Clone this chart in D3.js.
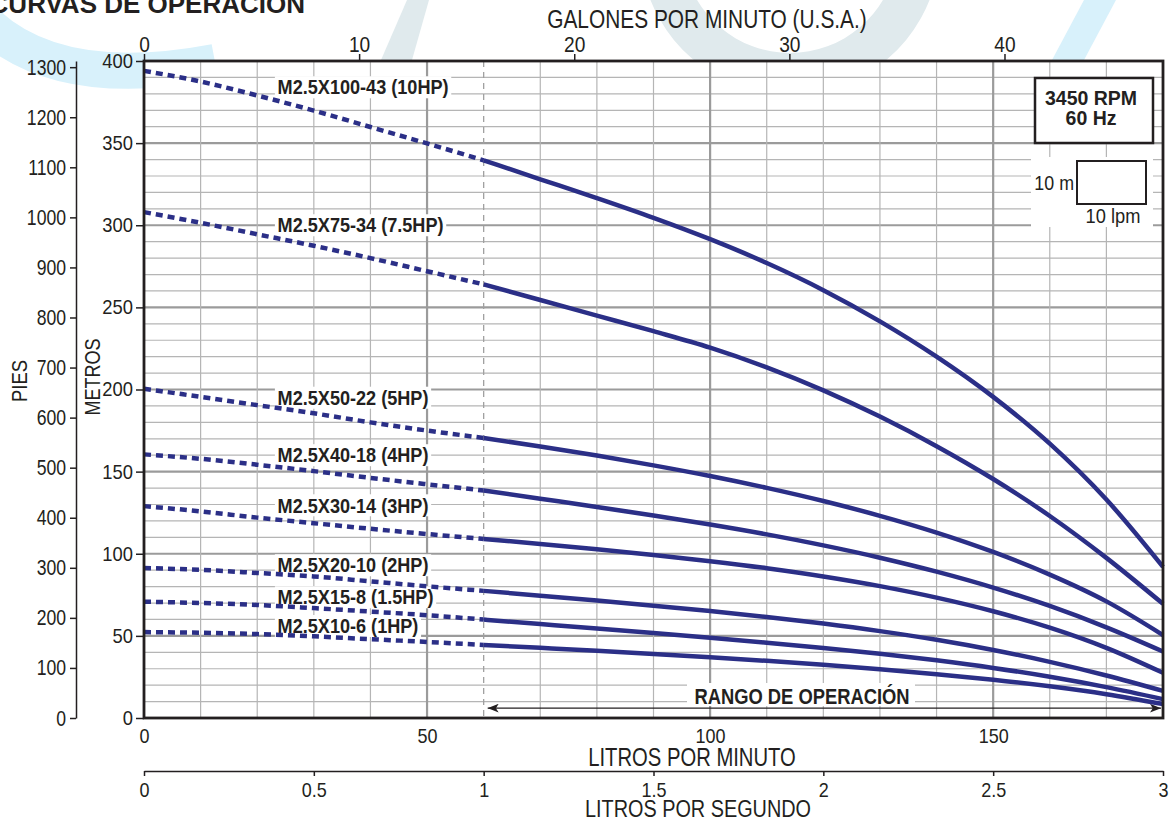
<!DOCTYPE html>
<html><head><meta charset="utf-8">
<script src="https://cdn.jsdelivr.net/npm/d3@7"></script>
<style>
body{margin:0;background:#fff}
svg{display:block}
text{font-family:"Liberation Sans",Arial,Helvetica,sans-serif;fill:#231f20}
</style>
</head><body>
<svg id="c" width="1173" height="822"></svg>
<script>
// ---------------- data ----------------
const lpm = [0,10,20,30,40,50,60,70,80,90,100,110,120,130,140,150,160,170,180];
const models = ["M2.5X100-43 (10HP)","M2.5X75-34 (7.5HP)","M2.5X50-22 (5HP)","M2.5X40-18 (4HP)",
                "M2.5X30-14 (3HP)","M2.5X20-10 (2HP)","M2.5X15-8 (1.5HP)","M2.5X10-6 (1HP)"];
const head10HP  = [394,387.5,379,369.8,359.8,349.8,339.5,328,316.5,304.5,291.5,277,260.5,241.5,220,195.5,167,133,92];
const head7_5HP = [308,301.5,294.5,287.5,280,272,264,254.5,245,235.5,225.5,213.5,199.5,183.5,165.5,145.5,123,97.5,69.5];
const head5HP   = [200.5,195.5,190.5,185.5,180,175,170.5,165.3,159.8,153.8,147.3,140.1,132.1,123.1,112.9,101.1,87.3,71,50.5];
const head4HP   = [160.5,157.8,154.2,150.3,146.2,142.3,138.5,133.5,128.5,123.3,117.8,111.8,105.1,97.6,89.1,79.4,68.2,55.2,40.5];
const head3HP   = [129,125.8,122,118.6,115.2,112,109,106,102.8,99.3,95.5,91.2,86.2,80.3,73.3,65,55,42.7,27.5];
const head2HP   = [91.3,90.2,88.3,86.2,83.2,80.2,77.4,74.5,71.5,68.4,65.1,61.5,57.5,52.9,47.6,41.4,34.2,25.9,16.5];
const head1_5HP = [70.8,70,68.8,66.9,64.8,62.6,59.9,57.2,54.5,51.7,48.8,45.8,42.6,39.1,35.1,30.5,25.1,18.8,11.5];
const head1HP   = [52.3,51.9,51.1,49.7,48,46.3,44.5,42.7,40.9,39,37,34.8,32.4,29.7,26.7,23.3,19.3,14.5,8.5];
const heads = [head10HP,head7_5HP,head5HP,head4HP,head3HP,head2HP,head1_5HP,head1HP];

const metreTicks = [0,50,100,150,200,250,300,350,400];
const feetTicks  = [0,100,200,300,400,500,600,700,800,900,1000,1100,1200,1300];
const gpmTicks   = [0,10,20,30,40];
const lpmTicks   = [0,50,100,150];
const lpsTicks   = [0,0.5,1,1.5,2,2.5,3];
const rangeStartLpm = 60;

// ---------------- layout ----------------
const L=144, R=1163, T=61, B=718;
const svg = d3.select("#c");
const x = d3.scaleLinear([0,180],[L,R]);
const y = d3.scaleLinear([0,400],[B,T]);
const yFt = d3.scaleLinear([0,400/0.3048],[B,T]);
const xGpm = d3.scaleLinear([0,180/3.8],[L,R]);
const xLps = d3.scaleLinear([0,3],[L,R]);
const blue = "#2b2f87";
const labelHead = [384,300,195,160,129.5,93,73.5,56];

function txt(px,py,s,o){
  return svg.append("text")
    .attr("transform",`translate(${px},${py}) rotate(${o.rot||0}) scale(${o.k||1},1)`)
    .attr("text-anchor",o.anchor||"middle")
    .style("font-size",o.size+"px").style("font-weight",o.weight||"normal")
    .text(s);
}
function condense(sel,k,size){
  sel.selectAll("text").each(function(){
    const t=d3.select(this); const xx=+t.attr("x")||0;
    t.attr("x",xx/k).attr("transform",`scale(${k},1)`).style("font-size",size+"px")
     .style("font-family",'"Liberation Sans",Arial,sans-serif').attr("fill","#231f20");
  });
}

// ---------------- watermark ----------------
const wm = svg.append("g");
wm.append("path").attr("d","M -30,5 Q 40,95 215,62").attr("fill","none").attr("stroke","#d8f1fb").attr("stroke-width",36);
wm.append("path").attr("d","M 407,0 L 429,0 L 412,60 L 381,60 Z").attr("fill","#e0eaed");
wm.append("path").attr("d",d3.arc()({innerRadius:108,outerRadius:150,startAngle:Math.PI*0.55,endAngle:Math.PI*1.45})).attr("transform","translate(790,-55)").attr("fill","#e0eaed");
wm.append("path").attr("d","M 1084,0 L 1116,0 L 1084,60 L 1052,60 Z").attr("fill","#d8f1fb");

// plot background
svg.append("rect").attr("x",L).attr("y",T).attr("width",R-L).attr("height",B-T).attr("fill","#fff");

// ---------------- grid ----------------
const grid = svg.append("g");
d3.range(10,400,10).forEach(v=>{
  grid.append("line").attr("x1",L).attr("x2",R).attr("y1",y(v)).attr("y2",y(v))
   .attr("stroke", v%50===0?"#9b9b9b":"#b5b5b5").attr("stroke-width", v%50===0?2.2:1.2);
});
d3.range(10,180,10).filter(v=>v!==rangeStartLpm).forEach(v=>{
  grid.append("line").attr("y1",T).attr("y2",B).attr("x1",x(v)).attr("x2",x(v))
   .attr("stroke", v%50===0?"#9b9b9b":"#b5b5b5").attr("stroke-width", v%50===0?2.2:1.2);
});
grid.append("line").attr("y1",T).attr("y2",B).attr("x1",x(rangeStartLpm)).attr("x2",x(rangeStartLpm))
  .attr("stroke","#a0a0a0").attr("stroke-width",1.3).attr("stroke-dasharray","6,5");

// ---------------- legend boxes ----------------
svg.append("rect").attr("x",1031).attr("y",157).attr("width",122).attr("height",70).attr("fill","#fff");
svg.append("rect").attr("x",1035).attr("y",78).attr("width",118).attr("height",65).attr("fill","#fff").attr("stroke","#231f20").attr("stroke-width",2.5);
txt(1091,105,"3450 RPM",{size:19.5,weight:"bold"});
txt(1091,125,"60 Hz",{size:19.5,weight:"bold"});
svg.append("rect").attr("x",1077).attr("y",161).attr("width",69).attr("height",43).attr("fill","#fff").attr("stroke","#231f20").attr("stroke-width",2);
txt(1074,190,"10 m",{size:21,k:0.85,anchor:"end"});
txt(1113,223,"10 lpm",{size:21,k:0.87});

// ---------------- model label boxes (behind curves) ----------------
const LBK = 0.905, LBS = 20;
const labelGroups = models.map((m,i)=>{
  const g = svg.append("g").attr("transform",`translate(${x(23.6)},${y(labelHead[i])}) scale(${LBK},1)`);
  const t = g.append("text").attr("dy","0.36em").style("font-size",LBS+"px").style("font-weight","bold").text(m);
  const bb = t.node().getBBox();
  g.insert("rect","text").attr("x",bb.x-3).attr("y",-11).attr("width",bb.width+6).attr("height",22).attr("fill","#fff");
  t.remove();
  return g;
});

// RANGO box and arrow
svg.append("rect").attr("x",687).attr("y",683).attr("width",228).attr("height",23).attr("fill","#fff");
const defs = svg.append("defs");
defs.append("marker").attr("id","ah").attr("viewBox","0 0 10 8").attr("refX",10).attr("refY",4)
  .attr("markerWidth",11).attr("markerHeight",9).attr("markerUnits","userSpaceOnUse").attr("orient","auto-start-reverse")
  .append("path").attr("d","M0,0 L10,4 L0,8 L2.5,4 Z").attr("fill","#231f20");
svg.append("line").attr("x1",x(rangeStartLpm)+4).attr("x2",R-2).attr("y1",y(6)).attr("y2",y(6))
  .attr("stroke","#231f20").attr("stroke-width",1.4).attr("marker-start","url(#ah)").attr("marker-end","url(#ah)");

// ---------------- curves ----------------
const line = d3.line().x(d=>x(d[0])).y(d=>y(d[1])).curve(d3.curveMonotoneX);
heads.forEach(h=>{
  const pts = lpm.map((q,j)=>[q,h[j]]);
  svg.append("path").attr("d",line(pts.filter(p=>p[0]<=rangeStartLpm))).attr("fill","none")
    .attr("stroke",blue).attr("stroke-width",4.5).attr("stroke-dasharray","7,5");
  svg.append("path").attr("d",line(pts.filter(p=>p[0]>=rangeStartLpm))).attr("fill","none")
    .attr("stroke",blue).attr("stroke-width",4.5);
});

// model label texts
models.forEach((m,i)=>{
  labelGroups[i].append("text").attr("dy","0.36em").style("font-size",LBS+"px").style("font-weight","bold").text(m);
});
txt(802,704,"RANGO DE OPERACIÓN",{size:22,k:0.835,weight:"bold"});

// ---------------- frame ----------------
svg.append("rect").attr("x",L).attr("y",T).attr("width",R-L).attr("height",B-T).attr("fill","none")
  .attr("stroke","#231f20").attr("stroke-width",2.8);

// ---------------- axes ----------------
const aM = svg.append("g").attr("transform",`translate(${L},0)`)
  .call(d3.axisLeft(y).tickValues(metreTicks).tickSize(8).tickPadding(3));
aM.select(".domain").remove();
aM.selectAll("line").attr("stroke","#231f20").attr("stroke-width",1.5);
condense(aM,0.92,20);

const aF = svg.append("g").attr("transform",`translate(76,0)`)
  .call(d3.axisLeft(yFt).tickValues(feetTicks).tickSize(6).tickSizeOuter(0).tickPadding(4).tickFormat(d3.format("d")));
aF.select(".domain").attr("stroke","#231f20").attr("stroke-width",1.5);
aF.selectAll("line").attr("stroke","#231f20").attr("stroke-width",1.5);
condense(aF,0.8,22);

const aG = svg.append("g").attr("transform",`translate(0,${T})`)
  .call(d3.axisTop(xGpm).tickValues(gpmTicks).tickSize(7).tickPadding(2));
aG.select(".domain").remove();
aG.selectAll("line").attr("stroke","#231f20").attr("stroke-width",1.5);
condense(aG,0.87,22);

const aL = svg.append("g").attr("transform",`translate(0,${B})`)
  .call(d3.axisBottom(x).tickValues(lpmTicks).tickSize(0).tickPadding(11));
aL.select(".domain").remove();
condense(aL,0.9,20);

const aS = svg.append("g").attr("transform",`translate(0,771)`)
  .call(d3.axisBottom(xLps).tickValues(lpsTicks).tickSize(5).tickSizeOuter(0).tickPadding(7).tickFormat(d=>String(d)));
aS.select(".domain").attr("stroke","#231f20").attr("stroke-width",1.5);
aS.selectAll("line").attr("stroke","#231f20").attr("stroke-width",1.5);
condense(aS,0.9,20);

// ---------------- titles ----------------
txt(707,28,"GALONES POR MINUTO (U.S.A.)",{size:25,k:0.835});
txt(692,766,"LITROS POR MINUTO",{size:25,k:0.81});
txt(698,817,"LITROS POR SEGUNDO",{size:24.5,k:0.81});
txt(27,381,"PIES",{size:22,k:0.84,rot:-90});
txt(100,377,"METROS",{size:22,k:0.82,rot:-90});
txt(305,13,"CURVAS DE OPERACIÓN",{size:26,weight:"bold",anchor:"end"});
</script>
</body></html>
